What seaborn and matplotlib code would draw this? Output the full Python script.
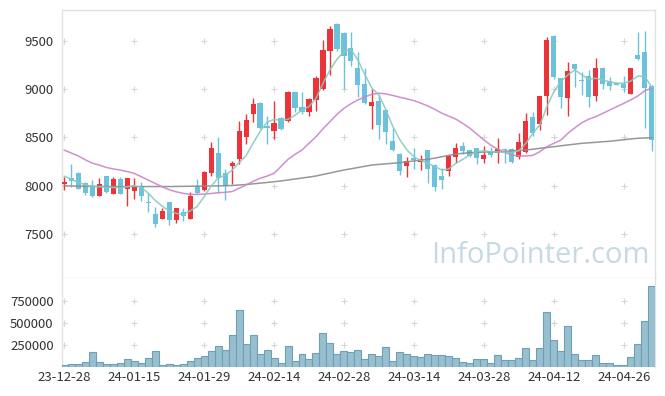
import numpy as np
import pandas as pd
import matplotlib
matplotlib.use("Agg")
import matplotlib.pyplot as plt
import seaborn as sns

# --- DATA ---
tick_labels = ["23-12-28", "24-01-15", "24-01-29", "24-02-14", "24-02-28",
               "24-03-14", "24-03-28", "24-04-12", "24-04-26"]
tick_step = 10

open_ = [8015, 8077, 8135, 8030, 8000, 7897, 8100, 7918, 8070, 7967,
         7950, 8000, 7830, 7705, 7660, 7830, 7645, 7725, 7660, 8000,
         7960, 8135, 8340, 8130, 8200, 8280, 8505, 8745, 8857, 8620,
         8570, 8700, 8675, 8970, 8815, 8760, 8890, 9005, 9400, 9676,
         9583, 9430, 9217, 9050, 8830, 8880, 8785, 8464, 8330, 8208,
         8284, 8250, 8370, 8220, 8100, 8156, 8300, 8412, 8370, 8388,
         8280, 8363, 8336, 8384, 8384, 8295, 8346, 8716, 8643, 8930,
         9552, 9113, 8906, 9258, 9096, 9138, 8934, 9224, 9085, 9068,
         9054, 8955, 9355, 9383, 9034]
high = [8094, 8225, 8140, 8042, 8060, 8083, 8105, 8087, 8090, 8083,
        8077, 8035, 7921, 7783, 7773, 7835, 7773, 7773, 7938, 8070,
        8153, 8450, 8510, 8174, 8260, 8671, 8743, 8906, 8865, 8726,
        8878, 8710, 8982, 8975, 8968, 8910, 9141, 9510, 9652, 9686,
        9590, 9590, 9383, 9217, 9003, 8940, 8790, 8595, 8335, 8301,
        8388, 8319, 8375, 8230, 8181, 8315, 8440, 8457, 8375, 8395,
        8412, 8405, 8492, 8395, 8395, 8543, 8751, 8768, 8930, 9545,
        9560, 9120, 9286, 9265, 9182, 9200, 9327, 9230, 9131, 9075,
        9141, 9224, 9590, 9607, 9040]
low = [7956, 7990, 7965, 7904, 7884, 7890, 7921, 7910, 7910, 7793,
       7860, 7839, 7728, 7576, 7655, 7590, 7617, 7631, 7655, 7915,
       7950, 8101, 7920, 7852, 8015, 8222, 8430, 8657, 8590, 8436,
       8484, 8580, 8665, 8760, 8740, 8720, 8778, 8992, 9148, 9400,
       9003, 9238, 8923, 8850, 8588, 8484, 8430, 8360, 8111, 8094,
       8174, 8163, 8030, 7949, 7963, 8101, 8233, 8326, 8295, 8225,
       8233, 8300, 8233, 8240, 8233, 8280, 8336, 8519, 8578, 8733,
       9110, 8803, 8723, 9027, 8940, 8820, 8878, 9003, 8996, 9040,
       8968, 8950, 9300, 8595, 8360]
close = [8042, 8052, 7970, 7920, 7895, 8021, 7940, 8070, 7918, 8077,
         8000, 7897, 7820, 7605, 7738, 7645, 7770, 7690, 7895, 7920,
         8140, 8395, 8085, 7995, 8236, 8567, 8678, 8847, 8595, 8600,
         8653, 8590, 8970, 8810, 8760, 8900, 9117, 9407, 9624, 9414,
         9340, 9296, 9047, 8860, 8865, 8630, 8560, 8370, 8156, 8256,
         8264, 8274, 8170, 7990, 8060, 8308, 8388, 8363, 8310, 8284,
         8320, 8322, 8377, 8370, 8250, 8450, 8671, 8543, 8930, 9510,
         9124, 8923, 9189, 9207, 9080, 8923, 9224, 9058, 9037, 9044,
         9016, 9224, 9313, 9016, 8474]
volume = [23000, 30000, 30000, 57000, 167000, 57000, 30000, 30000, 42000, 87000,
          68000, 42000, 98000, 178000, 19000, 30000, 19000, 30000, 68000, 98000,
          121000, 178000, 242000, 189000, 360000, 644000, 258000, 360000, 144000, 189000,
          98000, 42000, 235000, 64000, 144000, 87000, 155000, 383000, 269000, 144000,
          182000, 167000, 189000, 87000, 144000, 121000, 224000, 64000, 167000, 144000,
          121000, 110000, 144000, 132000, 132000, 121000, 98000, 53000, 42000, 87000,
          87000, 42000, 132000, 76000, 76000, 98000, 212000, 76000, 212000, 621000,
          303000, 178000, 462000, 144000, 76000, 76000, 132000, 42000, 42000, 19000,
          19000, 110000, 258000, 519000, 917000]
ma5 = [8100, 8070, 8035, 8010, 7995, 7990, 7985, 7982, 7978, 7990,
       8000, 7985, 7925, 7850, 7790, 7740, 7715, 7700, 7740, 7785,
       7885, 7995, 8080, 8110, 8160, 8240, 8310, 8440, 8560, 8660,
       8685, 8680, 8688, 8730, 8785, 8820, 8905, 9060, 9200, 9310,
       9390, 9414, 9300, 9150, 9010, 8940, 8785, 8612, 8474, 8370,
       8300, 8260, 8233, 8198, 8163, 8175, 8233, 8274, 8319, 8353,
       8363, 8353, 8350, 8346, 8343, 8363, 8440, 8543, 8630, 8819,
       8975, 9079, 9148, 9200, 9148, 9103, 9113, 9096, 9075, 9062,
       9062, 9085, 9137, 9130, 9020]
ma20 = [8370, 8340, 8310, 8270, 8235, 8215, 8190, 8175, 8163, 8148,
        8129, 8095, 8060, 8025, 7990, 7960, 7938, 7922, 7911, 7910,
        7914, 7920, 7928, 7932, 7940, 7974, 8008, 8045, 8077, 8100,
        8129, 8200, 8274, 8325, 8370, 8440, 8508, 8590, 8664, 8740,
        8802, 8850, 8889, 8920, 8948, 8958, 8951, 8935, 8916, 8900,
        8881, 8855, 8826, 8790, 8751, 8720, 8690, 8645, 8595, 8535,
        8474, 8420, 8377, 8345, 8319, 8310, 8308, 8315, 8353, 8405,
        8440, 8474, 8543, 8600, 8653, 8690, 8716, 8750, 8785, 8820,
        8854, 8890, 8930, 8985, 9010]
ma60 = [8000, 7998, 7996, 7995, 7994, 7993, 7993, 7992, 7992, 7992,
        7992, 7992, 7992, 7992, 7992, 7992, 7993, 7994, 7995, 7996,
        7997, 7998, 7999, 8000, 8003, 8008, 8013, 8020, 8027, 8034,
        8042, 8050, 8060, 8070, 8080, 8090, 8101, 8117, 8132, 8148,
        8163, 8176, 8189, 8202, 8215, 8221, 8227, 8233, 8239, 8248,
        8257, 8266, 8274, 8287, 8301, 8315, 8329, 8336, 8343, 8346,
        8349, 8351, 8353, 8357, 8362, 8366, 8370, 8379, 8388, 8396,
        8405, 8414, 8423, 8431, 8440, 8445, 8450, 8456, 8461, 8469,
        8477, 8485, 8492, 8495, 8498]

UP_COLOR = "#eb3339"
DOWN_COLOR = "#6cc2da"
GRID_COLOR = "#d6d6d6"
SPINE_COLOR = "#e2e2e2"

df = pd.DataFrame({"open": open_, "high": high, "low": low, "close": close,
                   "volume": volume, "ma5": ma5, "ma20": ma20, "ma60": ma60})
df["idx"] = np.arange(len(df))
df["up"] = df["close"] >= df["open"]

sns.set_theme(style="white")
plt.rcParams["font.family"] = ["Noto Sans CJK KR", "DejaVu Sans"]

fig = plt.figure(figsize=(6.65, 3.96), dpi=100)
W, H = 665, 396
left, right = 62, 655
ax = fig.add_axes([left / W, 1 - 278 / H, (right - left) / W, (278 - 10) / H])
ax_v = fig.add_axes([left / W, 1 - 367 / H, (right - left) / W, (367 - 278) / H], sharex=ax)

# watermark
ax.text(0.622, 0.055, "InfoPointer.com", transform=ax.transAxes,
        fontsize=21, color="#c6d9e4", ha="left", va="baseline",
        family=["Open Sans", "DejaVu Sans"], zorder=0)

# --- candles ---
colors = np.where(df["up"], UP_COLOR, DOWN_COLOR)
ax.vlines(df["idx"], df["low"], df["high"], colors=colors, linewidth=1.0, zorder=3)
body_lo = np.minimum(df["open"], df["close"])
body_h = np.maximum(np.abs(df["close"] - df["open"]), 12)
ax.bar(df["idx"], body_h, bottom=body_lo, width=0.72, color=colors, linewidth=0, zorder=4)

# --- moving averages ---
sns.lineplot(data=df, x="idx", y="ma60", ax=ax, color="#8c8c8c", linewidth=1.1, alpha=0.9, zorder=5)
sns.lineplot(data=df, x="idx", y="ma20", ax=ax, color="#c985c6", linewidth=1.1, alpha=0.9, zorder=5)
sns.lineplot(data=df, x="idx", y="ma5", ax=ax, color="#86cbc0", linewidth=1.1, alpha=0.9, zorder=5)

# --- volume ---
ax_v.bar(df["idx"], df["volume"], width=1.0, color="#97bfcf", edgecolor="#6f9fb5",
         linewidth=0.8, zorder=3)

xticks = np.arange(len(tick_labels)) * tick_step
ax.set_xlim(-0.3, 84.45)
ax.set_ylim(7045, 9820)
ax_v.set_ylim(0, 1010000)

price_ticks = [7500, 8000, 8500, 9000, 9500]
vol_ticks = [250000, 500000, 750000]
ax.set_yticks(price_ticks)
ax.set_yticklabels([str(t) for t in price_ticks])
ax_v.set_yticks(vol_ticks)
ax_v.set_yticklabels([str(t) for t in vol_ticks])
ax_v.set_xticks(xticks)
ax_v.set_xticklabels(tick_labels)
ax.tick_params(axis="x", labelbottom=False)

for a in (ax, ax_v):
    a.set_xlabel("")
    a.set_ylabel("")
    a.tick_params(length=0, labelsize=9.5, labelcolor="#333333", pad=6)
    for s in a.spines.values():
        s.set_color(SPINE_COLOR)
        s.set_linewidth(1.0)
ax_v.spines["bottom"].set_visible(False)
ax_v.spines["top"].set_visible(False)
ax_v.tick_params(axis="x", pad=3)

# small "+" marks at grid intersections
gx, gy = np.meshgrid(xticks, price_ticks)
ax.scatter(gx.ravel(), gy.ravel(), marker="+", s=14, color=GRID_COLOR, linewidths=0.8, zorder=1)
gx, gy = np.meshgrid(xticks, vol_ticks)
ax_v.scatter(gx.ravel(), gy.ravel(), marker="+", s=14, color=GRID_COLOR, linewidths=0.8, zorder=1)

fig.savefig("out.png", dpi=100)
